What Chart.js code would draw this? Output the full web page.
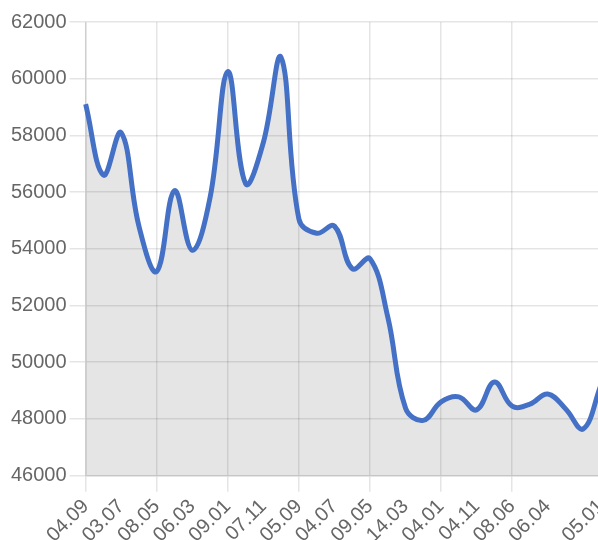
<!DOCTYPE html>
<html>
<head>
<meta charset="utf-8">
<script src="https://cdn.jsdelivr.net/npm/chart.js@4/dist/chart.umd.min.js"></script>
<style>
  html, body { margin: 0; padding: 0; background: #fff; overflow: hidden; }
  #wrap { position: relative; width: 621px; height: 550px; }
</style>
</head>
<body>
<div id="wrap"><canvas id="prices"></canvas></div>
<script>
// x labels, only every second point carries one (plus the last)
const dates = ['04.09', '', '03.07', '', '08.05', '', '06.03', '', '09.01', '', '07.11', '', '05.09', '', '04.07', '',
  '09.05', '', '14.03', '', '04.01', '', '04.11', '', '08.06', '', '06.04', '', '', '05.01'];

const prices = [59100, 56600, 58100, 54800, 53200, 56050, 53950, 55800, 60250, 56300, 57750, 60750, 55050, 54550, 54800, 53300,
  53650, 51600, 48380, 47950, 48600, 48780, 48320, 49300, 48450, 48520, 48880, 48360, 47650, 49200];

const yTicks = { min: 46000, max: 62000, step: 2000 };

const tickFont = { family: "'Helvetica Neue', Helvetica, Arial, sans-serif", size: 20 };
const gridColor = "rgba(0,0,0,0.1)";

const ctx = document.querySelector("#prices");
const priceChart = new Chart(ctx, {
  type: "line",
  data: {
    labels: dates,
    datasets: [
      {
        data: prices,
        borderColor: "#4471c6",
        borderWidth: 5,
        backgroundColor: "rgba(0,0,0,0.1)",
        fill: "start",
        tension: 0.4,
        pointRadius: 0,
      },
    ],
  },
  options: {
    responsive: true,
    maintainAspectRatio: false,
    animation: false,
    layout: { padding: { left: 8, top: 22, right: 0, bottom: 0 } },
    plugins: { legend: { display: false }, tooltip: { enabled: false } },
    scales: {
      x: {
        grid: {
          color: (c) => (dates[c.index] ? gridColor : "rgba(0,0,0,0)"),
          lineWidth: 1.5,
          tickLength: 16,
        },
        border: { color: gridColor, width: 1.5 },
        ticks: {
          autoSkip: false,
          maxRotation: 45,
          minRotation: 45,
          padding: 3,
          color: "#666",
          font: tickFont,
          callback: function (value) {
            const l = this.getLabelForValue(value);
            return l === "" ? null : l;
          },
        },
      },
      y: {
        min: yTicks.min,
        max: yTicks.max,
        grid: { color: gridColor, lineWidth: 1.5, tickLength: 16 },
        border: { color: gridColor, width: 1.5 },
        ticks: {
          stepSize: yTicks.step,
          padding: 3,
          color: "#666",
          font: tickFont,
          callback: (v) => String(v),
        },
      },
    },
  },
});
</script>
</body>
</html>
